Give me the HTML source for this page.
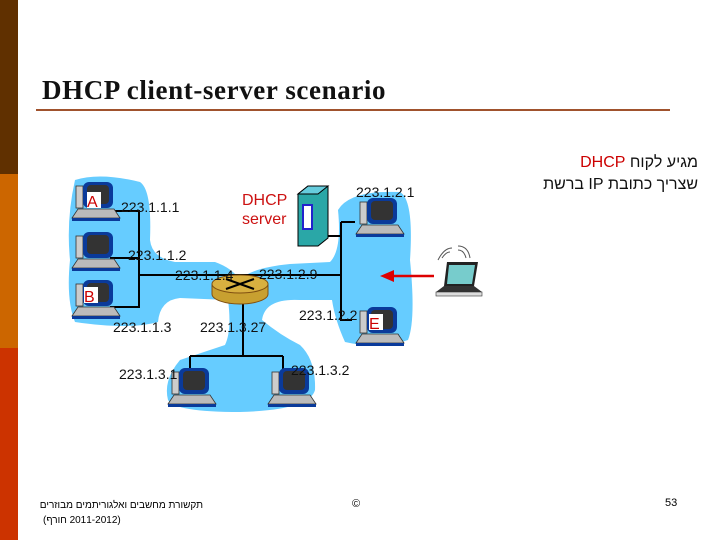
<!DOCTYPE html>
<html><head><meta charset="utf-8"><style>
body{margin:0;width:720px;height:540px;background:#fff;position:relative;overflow:hidden;font-family:"Liberation Sans",sans-serif}
.t{position:absolute;white-space:nowrap}
</style></head><body>
<div style="position:absolute;left:0;top:0;width:18px;height:174px;background:#603000"></div>
<div style="position:absolute;left:0;top:174px;width:18px;height:174px;background:#cc6600"></div>
<div style="position:absolute;left:0;top:348px;width:18px;height:192px;background:#cc3300"></div>
<div class="t" style="left:42px;top:75px;font:bold 27px 'Liberation Serif',serif;color:#111;letter-spacing:0.6px">DHCP client-server scenario</div>
<div style="position:absolute;left:36px;top:109px;width:634px;height:2px;background:#a0522d"></div>
<svg width="720" height="540" style="position:absolute;left:0;top:0" font-family="Liberation Sans, sans-serif">
<defs>
<g id="pc">
<rect x="0" y="4" width="7" height="22" fill="#ccc" stroke="#333" stroke-width="0.8"/>
<rect x="7" y="0" width="30" height="26" rx="6" fill="#0a3a9a"/>
<rect x="11" y="3" width="22" height="19" rx="4" fill="#333"/>
<polygon points="2,27 38,27 44,36 -4,36" fill="#bbb" stroke="#333" stroke-width="0.8"/>
<rect x="-4" y="36" width="48" height="3" fill="#0a3a9a"/>
</g>
</defs>
<g fill="#66ccff">
<path d="M75,180 Q100,172 140,182 Q152,190 150,240 Q152,258 175,262 L215,262 Q232,268 240,280 Q250,268 290,264 L330,262 Q342,250 338,210 Q350,190 400,192 Q414,200 410,260 Q416,320 408,340 Q380,350 345,342 Q335,320 332,300 L300,300 Q265,298 262,320 Q280,335 300,345 Q316,360 315,390 Q310,410 240,412 Q175,412 168,400 Q163,380 180,360 Q195,355 225,345 Q232,330 228,300 L180,298 Q160,300 158,322 Q130,330 75,322 Q66,300 70,260 Q66,220 75,180Z"/>
</g>
<g stroke="#000" stroke-width="2" fill="none">
<path d="M115,211 H139 V307 H110 M110,258 H139 M139,275 H340 M341,222 V320 H352 M341,222 H355 M322,236 H341 M243,300 V356 M190,356 H283 M190,356 V370 M283,356 V370"/>
</g>
<use href="#pc" x="76" y="182"/>
<use href="#pc" x="76" y="232"/>
<use href="#pc" x="76" y="280"/>
<use href="#pc" x="360" y="198"/>
<use href="#pc" x="360" y="307"/>
<use href="#pc" x="172" y="368"/>
<use href="#pc" x="272" y="368"/>
<rect x="87" y="192" width="14" height="16" fill="#fff"/><text x="87" y="207" font-size="16" fill="#cc0000">A</text>
<rect x="84" y="287" width="14" height="16" fill="#fff"/><text x="84" y="302" font-size="16" fill="#cc0000">B</text>
<rect x="369" y="314" width="14" height="16" fill="#fff"/><text x="369" y="329" font-size="16" fill="#cc0000">E</text>
<g>
<path d="M212,284 v10 a28,10 0 0 0 56,0 v-10" fill="#c8a030" stroke="#805010"/>
<ellipse cx="240" cy="284" rx="28" ry="9" fill="#d8b040" stroke="#805010"/>
<path d="M226,279 Q240,284 254,289 M226,289 Q240,284 254,279" stroke="#000" stroke-width="2" fill="none"/>
</g>
<polygon points="298,194 308,186 328,186 328,238 318,246 298,246" fill="#2aa7a7" stroke="#000"/>
<polygon points="298,194 308,186 328,186 318,194" fill="#6cd" stroke="#000"/>
<rect x="303" y="205" width="9" height="24" fill="#fff" stroke="#22c" stroke-width="2"/>
<text x="242" y="205" font-size="16" fill="#cc1111">DHCP</text>
<text x="242" y="224" font-size="16" fill="#cc1111">server</text>
<g font-size="14" fill="#111">
<text x="121" y="212">223.1.1.1</text>
<text x="128" y="260">223.1.1.2</text>
<text x="175" y="280">223.1.1.4</text>
<text x="259" y="279">223.1.2.9</text>
<text x="113" y="332">223.1.1.3</text>
<text x="200" y="332">223.1.3.27</text>
<text x="356" y="197">223.1.2.1</text>
<text x="299" y="320">223.1.2.2</text>
<text x="119" y="379">223.1.3.1</text>
<text x="291" y="375">223.1.3.2</text>
</g>
<line x1="434" y1="276" x2="392" y2="276" stroke="#dd0000" stroke-width="2.5"/>
<polygon points="380,276 394,270 394,282" fill="#dd0000"/>
<g>
<polygon points="447,262 478,262 474,286 444,286" fill="#222"/>
<polygon points="449,265 475,265 472,284 447,284" fill="#7cc"/>
<polygon points="444,286 474,286 482,292 436,292" fill="#333"/>
<rect x="436" y="292" width="46" height="4" fill="#ddd" stroke="#333" stroke-width="0.6"/>
<path d="M438,260 q6,-12 14,-12 M442,258 q4,-6 8,-6 M458,250 q6,0 8,8 M458,246 q10,0 12,12" stroke="#555" fill="none"/>
</g>
</svg>
<div class="t" style="right:22px;top:152px;font:16px 'Liberation Sans','Noto Sans CJK SC',sans-serif;direction:rtl;text-align:right;line-height:22px;color:#111">מגיע לקוח <span style="color:#c00">DHCP</span><br>שצריך כתובת IP ברשת</div>
<div class="t" style="left:43px;top:498px;font:10px 'Liberation Sans',sans-serif;direction:rtl;width:160px;text-align:right;line-height:15px">תקשורת מחשבים ואלגוריתמים מבוזרים<br><span style="float:left">(2011-2012 חורף)</span></div>
<div class="t" style="left:352px;top:498px;font:11px 'Liberation Sans',sans-serif">©</div>
<div class="t" style="left:665px;top:497px;font:11px 'Liberation Sans',sans-serif">53</div>
</body></html>
